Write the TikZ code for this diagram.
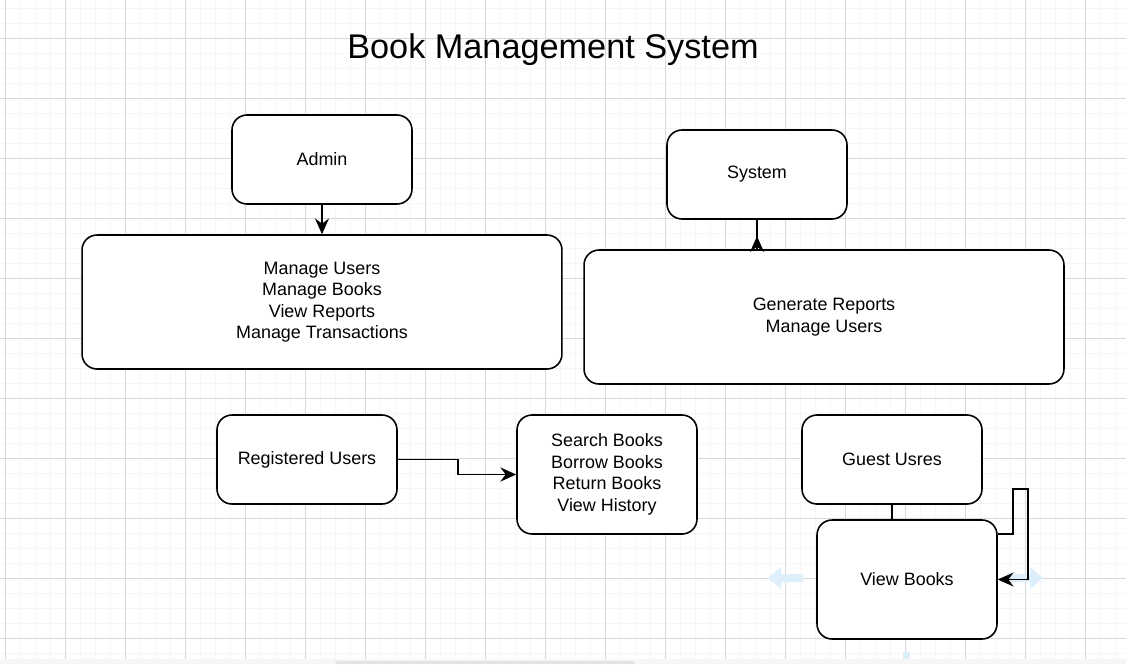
\documentclass[tikz,border=0pt]{standalone}
\usepackage{fontspec}
\setmainfont{Liberation Sans}
\usepackage{tikz}
\usetikzlibrary{arrows.meta,calc}
\definecolor{gridminor}{HTML}{F6F6F6}
\definecolor{gridmajor}{HTML}{D8D8D8}
\definecolor{hintblue}{HTML}{DCEFFB}
\tikzset{
  box/.style={draw=black, line width=0.9pt, rounded corners=8.5pt, fill=white,
    minimum width=3.6cm, minimum height=1.78cm, align=center,
    font=\fontsize{10.2}{12.2}\selectfont},
  bigbox/.style={box, minimum width=9.6cm, minimum height=2.68cm},
  tallbox/.style={box, minimum height=2.38cm},
  link/.style={black, line width=0.9pt},
  tip/.style={-{Stealth[length=9pt,width=8pt,inset=3pt]}},
}
\begin{document}
\begin{tikzpicture}[x=0.02cm, y=-0.02cm]
    \useasboundingbox (0,0) rectangle (1126,664);
    % grid
    \fill[white] (0,0) rectangle (1126,659);
    \fill[gridminor] (0,659) rectangle (1126,664);
    \foreach \x in {5,20,...,1125} \draw[gridminor, line width=0.55pt] (\x,0) -- (\x,659);
    \foreach \y in {8,23,...,658} \draw[gridminor, line width=0.55pt] (0,\y) -- (1126,\y);
    \foreach \x in {5,65,...,1125} \draw[gridmajor, line width=0.55pt] (\x,0) -- (\x,659);
    \foreach \y in {38,98,...,638} \draw[gridmajor, line width=0.55pt] (0,\y) -- (1126,\y);
    \fill[gridmajor!70, rounded corners=1pt] (335,661) rectangle (635,664);

    \node[anchor=base, font=\fontsize{19.5}{23}\selectfont] (title) at (553,58) {Book Management System};

    \node[box] (admin) at (322,159.5) {Admin};
    \node[bigbox] (adminfun) at (322,302) {Manage Users\\Manage Books\\View Reports\\Manage Transactions};
    \node[box] (system) at (757,174.5) {System};
    \node[bigbox] (sysfun) at (824,317) {Generate Reports\\Manage Users};
    \node[box] (reg) at (307,459.5) {Registered Users};
    \node[tallbox] (regfun) at (607,474.5) {Search Books\\Borrow Books \\Return Books\\View History};
    \node[box] (guest) at (892,459.5) {Guest Usres};
    \node[tallbox] (viewbooks) at (907,579.5) {View Books};

    % faint hover arrows
    \fill[hintblue] (768,578) -- (781,567) -- (781,574) -- (803,574) -- (803,582) -- (781,582) -- (781,589) -- cycle;
    \fill[hintblue] (1043,578) -- (1030,567) -- (1030,574) -- (1008,574) -- (1008,582) -- (1030,582) -- (1030,589) -- cycle;
    \fill[hintblue] (903,652) rectangle (910,659);

    \draw [tip][link] (admin.south) -- (adminfun.north);
    \draw [link] (system.south) -- (system.south |- sysfun.north);
    \draw [tip][link] (system.south |- sysfun.north) -- ++(0,-13);
    \draw [tip][link] (reg.east) -- ++(60,0) |- (regfun.west);
    \draw [link] (guest.south) -- (guest.south |- viewbooks.north);
    \draw [tip][link] ($(viewbooks.east)+(0,-45.5)$) -- ++(15,0) -- ++(0,-45) -- ++(15,0) |- (viewbooks.east);
\end{tikzpicture}
\end{document}
